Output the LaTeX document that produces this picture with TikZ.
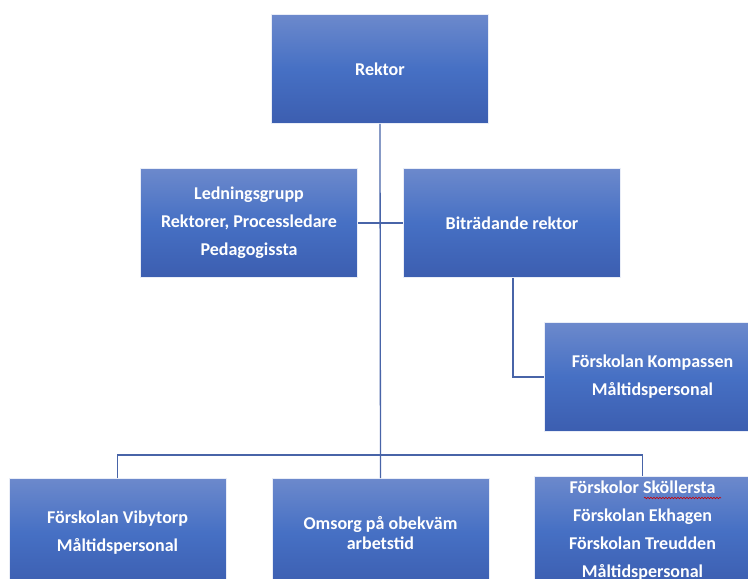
\documentclass[tikz,border=0pt]{standalone}
\usepackage{fontspec}
\setmainfont{Carlito}
\usetikzlibrary{positioning}
\usetikzlibrary{decorations.pathmorphing}
\definecolor{boxtop}{RGB}{108,137,204}
\definecolor{boxmid}{RGB}{70,112,196}
\definecolor{boxbot}{RGB}{60,94,176}
\definecolor{linecol}{RGB}{72,100,168}
\tikzset{
  orgbox/.style={rectangle, minimum width=217pt, minimum height=109pt,
    top color=boxtop, bottom color=boxbot, middle color=boxmid,
    draw=white!85!boxtop, line width=0.6pt, text=white, align=center,
    font=\fontsize{18}{28}\selectfont\bfseries, inner sep=0pt},
  orgline/.style={draw=linecol, line width=1.3pt}
}
\begin{document}
\begin{tikzpicture}[x=1pt,y=-1pt]
            \useasboundingbox (0,0) rectangle (748,579);
            \clip (0,0) rectangle (748,579);
            \fill[white] (0,0) rectangle (748,579);

            % top
            \node[orgbox] (rektor) at (380,69) {Rektor};

            % middle row
            \node[orgbox] (ledning) at (249,223) {Ledningsgrupp\\Rektorer, Processledare\\Pedagogissta};
            \node[orgbox] (bitr) at (512,223) {Biträdande rektor};
            \node[orgbox] (kompassen) at (652.5,377) {Förskolan Kompassen\\Måltidspersonal};

            % bottom row
            \node[orgbox] (vibytorp) at (117.5,533) {Förskolan Vibytorp\\Måltidspersonal};
            \node[orgbox, font=\fontsize{18}{20}\selectfont\bfseries] (omsorg) at (380.5,533) {Omsorg på obekväm\\arbetstid};
            \node[orgbox] (skoll) at (642.5,531) {Förskolor Sköllersta\\Förskolan Ekhagen\\Förskolan Treudden\\Måltidspersonal};
            \coordinate (bus) at (380,455);

            % connectors
            \draw[orgline] (rektor.south) -- (omsorg.north);
            \draw[orgline] (ledning.east) -- (bitr.west);
            \draw[orgline] (vibytorp.north) |- (bus) -| (skoll.north);
            \draw[orgline] ([xshift=1pt]bitr.south) |- (kompassen.west);

            % spell check mark
            \draw[red!80!black, line width=0.6pt, decorate,
              decoration={snake, amplitude=0.8pt, segment length=3pt}] (644,498) -- (721,498);
\end{tikzpicture}
\end{document}
